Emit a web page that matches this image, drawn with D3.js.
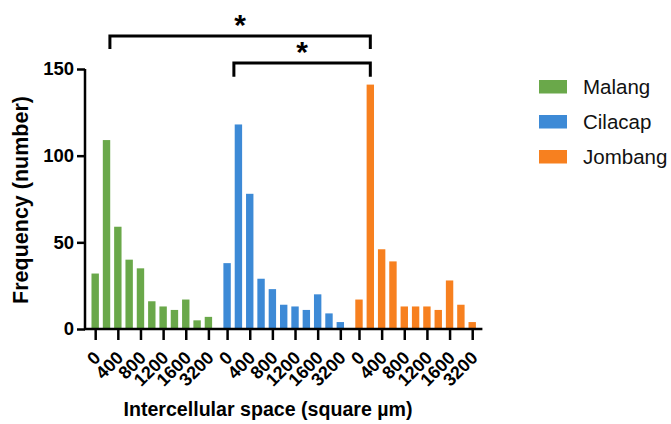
<!DOCTYPE html>
<html>
<head>
<meta charset="utf-8">
<script src="https://cdn.jsdelivr.net/npm/d3@7/dist/d3.min.js"></script>
<style>
html,body{margin:0;padding:0;background:#fff;}
svg{display:block;font-family:"Liberation Sans",Arial,sans-serif;}
</style>
</head>
<body>
<svg id="chart" width="671" height="424"></svg>
<script>
// ---- data ----
const groups = ["Malang", "Cilacap", "Jombang"];
const bins = ["0","200","400","600","800","1000","1200","1400","1600","2400","3200"];
const malang  = [32, 109, 59, 40, 35, 16, 13, 11, 17, 5, 7];
const cilacap = [38, 118, 78, 29, 23, 14, 13, 11, 20, 9, 4];
const jombang = [17, 141, 46, 39, 13, 13, 13, 11, 28, 14, 4];
const tickLabels = ["0","400","800","1200","1600","3200"];
const yTicks = [0, 50, 100, 150];
const colors = ["#6aa84a", "#3d8ad6", "#f7801f"];
const series = [malang, cilacap, jombang];
// significance brackets
const brackets = [
  {from:[0, 1.3], to:[2, 1], y:169, leg:161.5, label:"*"},
  {from:[1, 0.6], to:[2, 1], y:153.5, leg:145.5, label:"*"}
];

// ---- layout ----
const svg = d3.select("#chart");
const groupStride = 11.65;
const slot = (g, i) => g * groupStride + i;
const x = d3.scaleLinear().domain([-0.9, 34.2]).range([85, 482.4]);
const y = d3.scaleLinear().domain([0, 150]).range([329, 69]);
const barW = 7.4;

// bars
series.forEach((vals, g) => {
  svg.append("g").selectAll("rect").data(vals).join("rect")
    .attr("x", (d, i) => x(slot(g, i)) - barW / 2)
    .attr("y", d => y(d))
    .attr("width", barW)
    .attr("height", d => y(0) - y(d))
    .attr("fill", colors[g]);
});

// y axis
const yAxis = svg.append("g").attr("transform", `translate(${x(-0.9)},0)`)
  .call(d3.axisLeft(y).tickValues(yTicks).tickSize(8).tickPadding(3).tickSizeOuter(0));
yAxis.select(".domain").attr("stroke-width", 2.5).attr("d", `M0,${y(150)}V${y(0)+1}`);
yAxis.selectAll(".tick line").attr("stroke-width", 2.5);
yAxis.selectAll(".tick text").attr("font-size", 18.5).attr("font-weight", "bold").attr("fill", "#000")
  .attr("font-family", "Liberation Sans, Arial, sans-serif");

// x axis
const tickIdx = [0, 2, 4, 6, 8, 10];
const xTickVals = [];
const xTickText = [];
groups.forEach((gname, g) => tickIdx.forEach((bi, k) => { xTickVals.push(slot(g, bi)); xTickText.push(tickLabels[k]); }));
const xAxis = svg.append("g").attr("transform", `translate(0,${y(0)})`)
  .call(d3.axisBottom(x).tickValues(xTickVals).tickSize(11).tickSizeOuter(0).tickFormat((d, i) => xTickText[i]));
xAxis.select(".domain").attr("stroke-width", 2.5).attr("d", `M${x(-0.9)-1},0H${x(34.2)}`);
xAxis.selectAll(".tick line").attr("stroke-width", 2.5);
xAxis.selectAll(".tick text")
  .attr("font-size", 18).attr("font-weight", "bold").attr("fill", "#000")
  .attr("font-family", "Liberation Sans, Arial, sans-serif")
  .attr("text-anchor", "end")
  .attr("y", 0).attr("dy", 0)
  .attr("transform", "translate(6,30) rotate(-45)");

// axis titles
svg.append("text").attr("transform", `translate(28,${(y(0)+y(150))/2 + 1}) rotate(-90)`)
  .attr("text-anchor", "middle").attr("font-size", 21.5).attr("font-weight", "bold")
  .text("Frequency (number)");
svg.append("text").attr("x", 268).attr("y", 416)
  .attr("text-anchor", "middle").attr("font-size", 19.6).attr("font-weight", "bold")
  .text("Intercellular space (square µm)");

// significance brackets
brackets.forEach(b => {
  const x1 = x(slot(b.from[0], b.from[1])), x2 = x(slot(b.to[0], b.to[1]));
  svg.append("path")
    .attr("d", `M${x1},${y(b.leg)}V${y(b.y)}H${x2}V${y(b.leg)}`)
    .attr("fill", "none").attr("stroke", "#000").attr("stroke-width", 3);
  svg.append("text").attr("x", (x1 + x2) / 2).attr("y", y(b.y) - 1)
    .attr("text-anchor", "middle").attr("font-size", 30).attr("font-weight", "bold")
    .text(b.label);
});

// legend
const legend = svg.append("g").attr("transform", "translate(539,80)");
groups.forEach((gname, g) => {
  const row = legend.append("g").attr("transform", `translate(0,${g * 35})`);
  row.append("rect").attr("width", 28).attr("height", 13.5).attr("fill", colors[g]);
  row.append("text").attr("x", 44).attr("y", 7).attr("dy", "0.35em")
    .attr("font-size", 20.5).attr("fill", "#111").text(gname);
});
</script>
</body>
</html>
